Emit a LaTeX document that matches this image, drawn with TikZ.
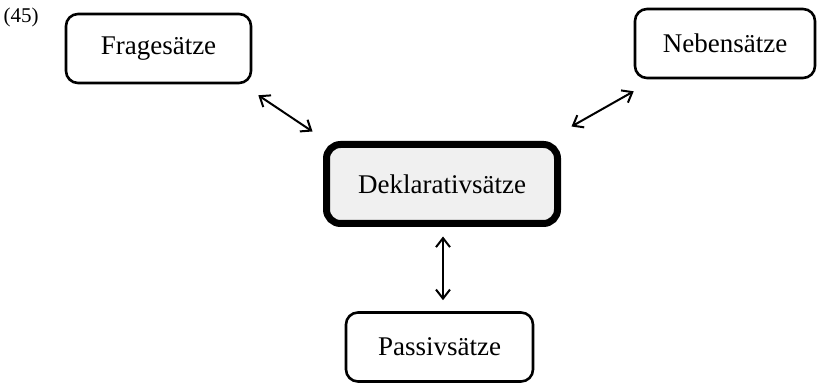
\documentclass[tikz,border=0pt]{standalone}
\usepackage{fontspec}
\setmainfont{Liberation Serif}
\usetikzlibrary{arrows.meta}
\begin{document}
\begin{tikzpicture}[x=0.5pt,y=-0.5pt,
  box/.style={draw=black,line width=1.3pt,rounded corners=6pt,fill=white,
    inner sep=0pt,font=\fontsize{13.5}{16}\selectfont},
  mainbox/.style={box,line width=3.5pt,fill=gray!12,rounded corners=7pt},
  link/.style={line width=1pt,{Straight Barb[length=4.5pt,width=7pt]}-{Straight Barb[length=4.5pt,width=7pt]}}]
\useasboundingbox (0,0) rectangle (817,383);
\node[font=\fontsize{10.5}{12}\selectfont] (num) at (21,17) {(45)};
\node[box,minimum width=92.5pt,minimum height=34.5pt] (frage) at (158.5,48.5) {Fragesätze};
\node[box,minimum width=90pt,minimum height=34.5pt] (neben) at (725,43.5) {Nebensätze};
\node[mainbox,minimum width=115.5pt,minimum height=39.5pt] (dekl) at (442,184) {Deklarativsätze};
\node[box,minimum width=93.5pt,minimum height=34.5pt] (passiv) at (439.5,347) {Passivsätze};
\draw[link] ([shift={(6,11)}]frage.south east) -- ([shift={(-10.5,-9.5)}]dekl.north west);
\draw[link] ([shift={(0,12)}]neben.south west) -- ([shift={(10.5,-14.5)}]dekl.north east);
\draw[link] ([shift={(1,9.5)}]dekl.south) -- ([shift={(3.5,-11)}]passiv.north);
\end{tikzpicture}
\end{document}
